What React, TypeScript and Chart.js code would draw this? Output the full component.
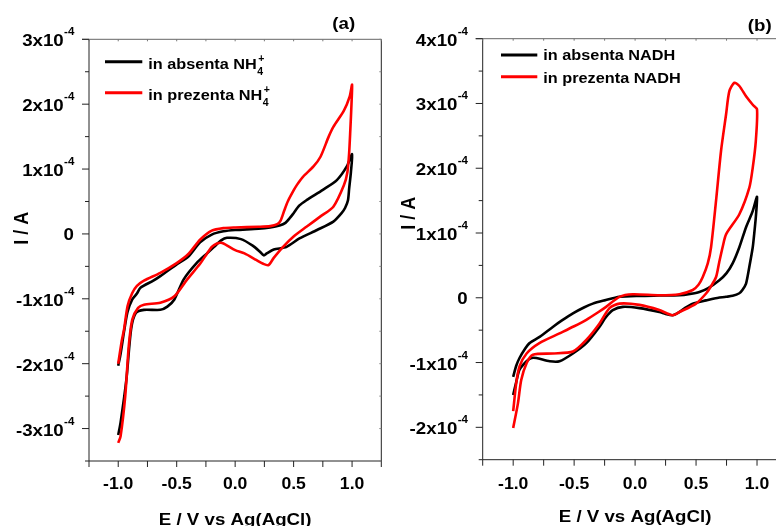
import React, { useEffect, useRef } from 'react';
import { Chart, registerables } from 'chart.js';
Chart.register(...registerables);

// ---------- DATA (current in units of 1e-4 A, potential in V) ----------
// Panel (a): in absenta / in prezenta NH4+
const aAbsE = [-1.0, -0.98, -0.95, -0.92, -0.88, -0.84, -0.81, -0.7, -0.64, -0.5, -0.4, -0.3, -0.2, -0.1, 0.0, 0.2, 0.3, 0.38, 0.43, 0.47, 0.5, 0.55, 0.61, 0.75, 0.87, 0.955, 1.0,
  0.99, 0.975, 0.965, 0.94, 0.91, 0.84, 0.7, 0.55, 0.44, 0.33, 0.27, 0.245, 0.21, 0.15, 0.05, -0.07, -0.12, -0.18, -0.24, -0.33, -0.44, -0.52, -0.58, -0.64, -0.78, -0.85, -0.89, -0.93, -0.98, -1.0];
const aAbsI = [-2.03, -1.85, -1.5, -1.2, -1.01, -0.92, -0.83, -0.72, -0.65, -0.47, -0.35, -0.13, -0.01, 0.04, 0.06, 0.08, 0.1, 0.13, 0.17, 0.25, 0.32, 0.44, 0.52, 0.68, 0.83, 1.04, 1.23,
  0.95, 0.7, 0.52, 0.4, 0.32, 0.19, 0.06, -0.07, -0.2, -0.24, -0.3, -0.33, -0.27, -0.18, -0.08, -0.06, -0.1, -0.2, -0.3, -0.45, -0.7, -1.01, -1.12, -1.17, -1.17, -1.22, -1.47, -2.24, -2.91, -3.1];
const aPrezE = [-1.0, -0.97, -0.95, -0.92, -0.88, -0.84, -0.78, -0.64, -0.5, -0.4, -0.3, -0.2, -0.1, 0.0, 0.2, 0.3, 0.36, 0.39, 0.42, 0.45, 0.5, 0.53, 0.58, 0.67, 0.73, 0.8, 0.84, 0.93, 0.98, 1.0,
  0.995, 0.985, 0.975, 0.96, 0.93, 0.84, 0.73, 0.61, 0.5, 0.41, 0.33, 0.285, 0.24, 0.18, 0.08, 0.0, -0.11, -0.16, -0.2, -0.24, -0.3, -0.41, -0.52, -0.64, -0.78, -0.83, -0.88, -0.91, -0.94, -0.98, -1.0];
const aPrezI = [-2.0, -1.65, -1.47, -1.11, -0.91, -0.8, -0.72, -0.6, -0.45, -0.31, -0.09, 0.05, 0.09, 0.1, 0.11, 0.12, 0.15, 0.21, 0.36, 0.5, 0.67, 0.76, 0.88, 1.04, 1.19, 1.5, 1.65, 1.9, 2.12, 2.3,
  2.0, 1.6, 1.25, 0.95, 0.75, 0.42, 0.27, 0.11, -0.04, -0.2, -0.37, -0.48, -0.46, -0.4, -0.3, -0.25, -0.14, -0.15, -0.2, -0.3, -0.46, -0.7, -0.96, -1.06, -1.09, -1.14, -1.32, -1.73, -2.5, -3.12, -3.22];

// Panel (b): in absenta / in prezenta NADH
const bAbsE = [-1.0, -0.975, -0.948, -0.9, -0.866, -0.78, -0.675, -0.6, -0.51, -0.42, -0.347, -0.25, -0.128, 0.036, 0.2, 0.363, 0.45, 0.527, 0.6, 0.691, 0.75, 0.8, 0.855, 0.91, 0.965, 1.0,
  0.99, 0.975, 0.965, 0.937, 0.91, 0.88, 0.855, 0.8, 0.746, 0.65, 0.582, 0.473, 0.4, 0.363, 0.307, 0.25, 0.199, 0.036, -0.1, -0.183, -0.24, -0.293, -0.4, -0.51, -0.62, -0.7, -0.81, -0.85, -0.89, -0.948, -0.975, -1.0];
const bAbsI = [-1.22, -1.05, -0.93, -0.78, -0.7, -0.6, -0.45, -0.35, -0.24, -0.15, -0.09, -0.04, 0.015, 0.03, 0.035, 0.04, 0.06, 0.09, 0.15, 0.27, 0.38, 0.53, 0.78, 1.09, 1.34, 1.56,
  1.24, 0.95, 0.78, 0.48, 0.22, 0.12, 0.07, 0.03, 0.015, -0.01, -0.04, -0.09, -0.17, -0.22, -0.27, -0.25, -0.22, -0.16, -0.14, -0.19, -0.3, -0.45, -0.7, -0.86, -0.98, -0.98, -0.93, -0.93, -0.98, -1.11, -1.3, -1.5];
const bPrezE = [-1.0, -0.975, -0.948, -0.89, -0.785, -0.62, -0.5, -0.4, -0.3, -0.238, -0.128, -0.02, 0.199, 0.363, 0.473, 0.52, 0.555, 0.596, 0.623, 0.664, 0.705, 0.746, 0.773, 0.814, 0.855, 0.91, 0.965, 1.0,
  0.99, 0.965, 0.937, 0.855, 0.746, 0.72, 0.69, 0.664, 0.62, 0.582, 0.5, 0.363, 0.307, 0.199, 0.036, -0.128, -0.21, -0.293, -0.4, -0.51, -0.675, -0.838, -0.89, -0.934, -0.961, -1.0];
const bPrezI = [-1.75, -1.32, -1.06, -0.86, -0.7, -0.55, -0.44, -0.34, -0.22, -0.14, 0.015, 0.055, 0.04, 0.055, 0.12, 0.2, 0.32, 0.53, 0.78, 1.5, 2.27, 2.83, 3.19, 3.32, 3.27, 3.11, 2.98, 2.91,
  2.42, 2.01, 1.7, 1.29, 0.98, 0.8, 0.55, 0.32, 0.17, 0.066, -0.09, -0.22, -0.27, -0.19, -0.11, -0.09, -0.16, -0.4, -0.65, -0.83, -0.86, -0.88, -1.01, -1.27, -1.63, -2.01];

// Tick values / labels
const xTickVals = [-1.25, -1.0, -0.75, -0.5, -0.25, 0, 0.25, 0.5, 0.75, 1.0, 1.25];
const xLabelVals = [-1.0, -0.5, 0, 0.5, 1.0];
const xLabelText = ['-1.0', '-0.5', '0.0', '0.5', '1.0'];
const aYMajor = [-3, -2, -1, 0, 1, 2, 3];
const bYMajor = [-2, -1, 0, 1, 2, 3, 4];
const yExponent = '-4';
const xTitle = 'E / V vs Ag(AgCl)';
const yTitle = 'I / A';
const aLegend = ['in absenta NH', 'in prezenta NH'];
const bLegend = ['in absenta NADH', 'in prezenta NADH'];

const FONT = '"Liberation Sans", Arial, Helvetica, sans-serif';
const SX = 1.1;
const RED = '#ff0000';
const BLACK = '#000000';

function toPts(E: number[], I: number[]) {
  return E.map((e, i) => ({ x: e, y: I[i] }));
}

function drawText(ctx: CanvasRenderingContext2D, s: string, x: number, y: number, size: number,
  align: CanvasTextAlign, sx = SX, rot = 0, sy = 1) {
  ctx.save();
  ctx.translate(x, y);
  if (rot) ctx.rotate(rot);
  ctx.scale(sx, sy);
  ctx.font = `bold ${size}px ${FONT}`;
  ctx.textAlign = align;
  ctx.textBaseline = 'alphabetic';
  ctx.fillStyle = '#000';
  ctx.fillText(s, 0, 0);
  ctx.restore();
}
function textW(ctx: CanvasRenderingContext2D, s: string, size: number, sx = SX) {
  ctx.save();
  ctx.font = `bold ${size}px ${FONT}`;
  const w = ctx.measureText(s).width * sx;
  ctx.restore();
  return w;
}

type Panel = {
  left: number; width: number; height: number;
  area: { left: number; right: number; top: number; bottom: number };
  yMin: number; yMax: number; yMajor: number[];
  datasets: { pts: { x: number; y: number }[]; color: string }[];
  legend: { color: string; x1: number; x2: number; y: number; tx: number; base: number; text: string; ion: boolean }[];
  label: string; labelX: number; labelBase: number;
  yTitleX: number; yTitleY: number; xTitleBase: number; xLabelBase: number;
};

const panels: Panel[] = [
  {
    left: 0, width: 390, height: 526,
    area: { left: 89, right: 381.3, top: 39.3, bottom: 461 },
    yMin: -3.5, yMax: 3, yMajor: aYMajor,
    datasets: [
      { pts: toPts(aPrezE, aPrezI), color: RED },
      { pts: toPts(aAbsE, aAbsI), color: BLACK },
    ],
    legend: [
      { color: BLACK, x1: 105, x2: 142.3, y: 61.7, tx: 148.3, base: 69, text: aLegend[0], ion: true },
      { color: RED, x1: 105, x2: 142.3, y: 92.7, tx: 148.3, base: 100, text: aLegend[1], ion: true },
    ],
    label: '(a)', labelX: 343.7, labelBase: 28.7,
    yTitleX: 28.3, yTitleY: 228.3, xTitleBase: 524.5, xLabelBase: 488.7,
  },
  {
    left: 390, width: 410, height: 526,
    area: { left: 482.7, right: 787.5, top: 38.7, bottom: 459.7 },
    yMin: -2.5, yMax: 4, yMajor: bYMajor,
    datasets: [
      { pts: toPts(bPrezE, bPrezI), color: RED },
      { pts: toPts(bAbsE, bAbsI), color: BLACK },
    ],
    legend: [
      { color: BLACK, x1: 501, x2: 537.3, y: 55, tx: 543.3, base: 60, text: bLegend[0], ion: false },
      { color: RED, x1: 501, x2: 537.3, y: 76.7, tx: 543.3, base: 82.7, text: bLegend[1], ion: false },
    ],
    label: '(b)', labelX: 759.7, labelBase: 30.7,
    yTitleX: 415.3, yTitleY: 213.3, xTitleBase: 521.5, xLabelBase: 488.7,
  },
];

function makeDecor(p: Panel) {
  const off = p.left;
  return {
    id: 'decor' + p.label,
    afterDraw(chart: any) {
      const ctx: CanvasRenderingContext2D = chart.ctx;
      const ca = chart.chartArea;
      const xs = chart.scales.x;
      const ys = chart.scales.y;
      ctx.save();
      // frame
      ctx.lineWidth = 1;
      ctx.strokeStyle = '#222';
      ctx.beginPath();
      ctx.moveTo(ca.left, ca.top); ctx.lineTo(ca.left, ca.bottom);
      ctx.lineTo(ca.right, ca.bottom); ctx.lineTo(ca.right, ca.top);
      ctx.stroke();
      ctx.strokeStyle = '#666';
      ctx.beginPath();
      ctx.moveTo(ca.left - 7, ca.top); ctx.lineTo(ca.right, ca.top);
      ctx.stroke();
      // x ticks
      for (const v of xTickVals) {
        const px = xs.getPixelForValue(v);
        ctx.strokeStyle = '#222';
        ctx.beginPath(); ctx.moveTo(px, ca.bottom); ctx.lineTo(px, ca.bottom + 6); ctx.stroke();
        ctx.strokeStyle = '#777';
        ctx.beginPath(); ctx.moveTo(px, ca.top); ctx.lineTo(px, ca.top + 2); ctx.stroke();
      }
      // y ticks
      for (let v = p.yMin; v <= p.yMax + 1e-9; v += 0.5) {
        const py = ys.getPixelForValue(v);
        const major = Math.abs(v - Math.round(v)) < 1e-6;
        ctx.strokeStyle = '#222';
        ctx.beginPath(); ctx.moveTo(ca.left, py); ctx.lineTo(ca.left - (major ? 7 : 4), py); ctx.stroke();
        ctx.strokeStyle = '#888';
        ctx.beginPath(); ctx.moveTo(ca.right, py); ctx.lineTo(ca.right - 2, py); ctx.stroke();
      }
      // y labels
      const R = ca.left - 15;
      for (const v of p.yMajor) {
        const py = ys.getPixelForValue(v);
        if (v === 0) {
          drawText(ctx, '0', R, py + 6.5, 17, 'right');
        } else {
          const supW = textW(ctx, yExponent, 10.5);
          drawText(ctx, `${v}x10`, R - supW, py + 7, 17, 'right');
          drawText(ctx, yExponent, R - supW + 0.3, py - 4, 10.5, 'left');
        }
      }
      // x labels
      xLabelVals.forEach((v, i) => {
        drawText(ctx, xLabelText[i], xs.getPixelForValue(v), p.xLabelBase, 16, 'center');
      });
      // axis titles
      drawText(ctx, xTitle, (ca.left + ca.right) / 2, p.xTitleBase, 17, 'center');
      drawText(ctx, yTitle, p.yTitleX - off, p.yTitleY, 18, 'center', 1, -Math.PI / 2, SX);
      // legend
      for (const it of p.legend) {
        ctx.strokeStyle = it.color;
        ctx.lineWidth = 3;
        ctx.lineCap = 'butt';
        ctx.beginPath(); ctx.moveTo(it.x1 - off, it.y); ctx.lineTo(it.x2 - off, it.y); ctx.stroke();
        drawText(ctx, it.text, it.tx - off, it.base, 15.5, 'left', 1.05);
        if (it.ion) {
          const w = textW(ctx, it.text, 15.5, 1.05);
          drawText(ctx, '4', it.tx - off + w + 0.5, it.base + 6, 10, 'left', 1.05);
          drawText(ctx, '+', it.tx - off + w + 1.5, it.base - 7.5, 10, 'left', 1.05);
        }
      }
      // panel label
      drawText(ctx, p.label, p.labelX - off, p.labelBase, 17, 'center');
      ctx.restore();
    },
  };
}

function PanelChart({ p }: { p: Panel }) {
  const ref = useRef<HTMLCanvasElement>(null);
  useEffect(() => {
    if (!ref.current) return;
    const off = p.left;
    const chart = new Chart(ref.current, {
      type: 'scatter',
      data: {
        datasets: p.datasets.map((d, i) => ({
          data: d.pts,
          showLine: true,
          borderColor: d.color,
          backgroundColor: d.color,
          borderWidth: 2.6,
          pointRadius: 0,
          tension: 0.25,
          order: i,
        })),
      },
      options: {
        animation: false,
        responsive: false,
        devicePixelRatio: 1,
        events: [],
        layout: {
          padding: {
            left: p.area.left - off,
            right: p.width - (p.area.right - off),
            top: p.area.top,
            bottom: p.height - p.area.bottom,
          },
        },
        plugins: { legend: { display: false }, tooltip: { enabled: false }, title: { display: false } },
        scales: {
          x: { type: 'linear', min: -1.25, max: 1.25, display: false },
          y: { type: 'linear', min: p.yMin, max: p.yMax, display: false },
        },
      },
      plugins: [makeDecor(p)],
    } as any);
    return () => chart.destroy();
  }, [p]);
  return (
    <canvas
      ref={ref}
      width={p.width}
      height={p.height}
      style={{ position: 'absolute', left: p.left, top: 0, width: p.width, height: p.height }}
    />
  );
}

export default function App() {
  return (
    <div style={{ position: 'fixed', left: 0, top: 0, width: 776, height: 526, overflow: 'hidden', background: '#fff' }}>
      {panels.map((p) => (
        <PanelChart key={p.label} p={p} />
      ))}
    </div>
  );
}
